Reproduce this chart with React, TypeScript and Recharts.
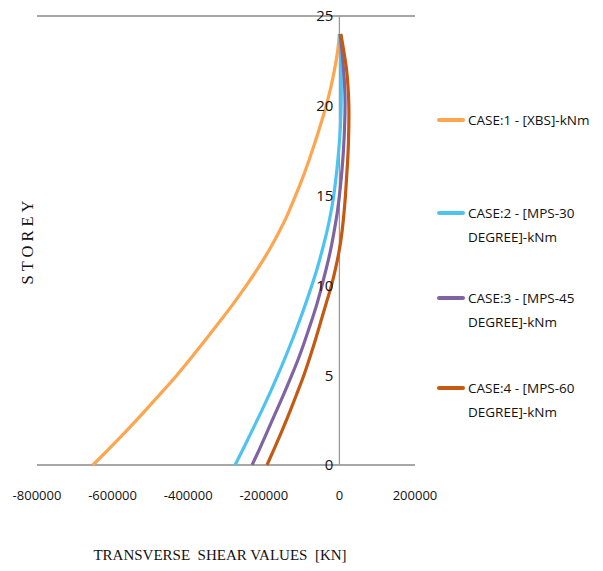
import {
  LineChart,
  Line,
  XAxis,
  YAxis,
  CartesianGrid,
  ReferenceLine,
  ReferenceDot,
  Legend,
} from "recharts";

const storeys = [0, 1, 2, 3, 4, 5, 6, 7, 8, 9, 10, 11, 12, 13, 14, 15, 16, 17, 18, 19, 20, 21, 22, 23, 24];

// transverse shear per storey, kN
const case1 = [
  -652000, -605000, -559000, -515000, -472000, -430000, -391000, -353000, -316000, -280000,
  -246000, -214000, -185000, -159000, -136000, -116000, -97000, -80000, -64000, -49000,
  -35000, -23000, -13000, -5000, 0,
];
const case2 = [
  -276000, -252000, -229000, -206000, -184000, -163000, -143000, -124000, -106000, -89000,
  -73000, -58000, -45000, -33000, -23000, -15000, -9000, -4000, 0, 3000,
  4500, 5000, 4500, 3000, 1000,
];
const case3 = [
  -231000, -209000, -188000, -167000, -146000, -126000, -107000, -90000, -74000, -59000,
  -46000, -34000, -23000, -14000, -6000, 0, 5000, 9000, 12000, 14000,
  15000, 14000, 11000, 7000, 2000,
];
const case4 = [
  -191500, -170500, -150000, -130500, -112000, -94000, -78000, -63000, -49000, -35000,
  -21000, -9500, 0, 7000, 12000, 16000, 19000, 22000, 24000, 25000,
  25000, 23000, 19000, 12000, 4000,
];

const seriesKeys = ["c1", "c2", "c3", "c4"];
const seriesNames = [
  "CASE:1 - [XBS]-kNm",
  "CASE:2 - [MPS-30 DEGREE]-kNm",
  "CASE:3 - [MPS-45 DEGREE]-kNm",
  "CASE:4 - [MPS-60 DEGREE]-kNm",
];
const seriesColors = ["#FDA64F", "#4EC3F0", "#8064A2", "#C45911"];

const xTicks = [-800000, -600000, -400000, -200000, 0, 200000];
const yTicks = [0, 5, 10, 15, 20, 25];

const rows = storeys.map((s, i) => ({
  storey: s,
  c1: case1[i],
  c2: case2[i],
  c3: case3[i],
  c4: case4[i],
}));

const numFont = "'Open Sans', sans-serif";
const titleFont = "'Liberation Serif', 'DejaVu Serif', serif";

// gap below each legend entry
const legendGaps = [69, 37, 42, 0];

const ShearLegend = ({ payload }: any) => (
  <div style={{ fontFamily: numFont, fontSize: 13.5, color: "#111", lineHeight: "24px" }}>
    {(payload || []).map((p: any, i: number) => (
      <div key={i} style={{ display: "flex", alignItems: "flex-start", marginBottom: legendGaps[i] }}>
        <div
          style={{
            width: 28,
            height: 4,
            marginTop: 10,
            marginRight: 3,
            background: p.color,
            borderRadius: 2,
            flexShrink: 0,
          }}
        />
        <div style={{ width: 132 }}>{p.value}</div>
      </div>
    ))}
  </div>
);

export default function App() {
  return (
    <div style={{ position: "absolute", left: 0, top: 0, width: 603, height: 571, background: "#fff" }}>
      <LineChart
        layout="vertical"
        width={603}
        height={571}
        data={rows}
        margin={{ top: 16, right: 188, bottom: 0, left: 0 }}
      >
        <CartesianGrid vertical={false} stroke="#8a8a8a" strokeWidth={1.3} />
        <XAxis
          type="number"
          domain={[-800000, 200000]}
          ticks={xTicks}
          interval={0}
          height={106}
          axisLine={false}
          tickLine={false}
          tickMargin={20}
          tick={{ fill: "#111", fontSize: 13, fontFamily: numFont }}
          label={{
            value: "TRANSVERSE\u00a0 SHEAR VALUES\u00a0 [KN]",
            position: "insideBottom",
            offset: 11,
            dx: -6,
            style: { fill: "#111", fontSize: 15, fontFamily: titleFont },
          }}
        />
        <YAxis
          type="number"
          dataKey="storey"
          domain={[0, 25]}
          ticks={yTicks}
          reversed
          width={37}
          tick={false}
          axisLine={false}
          tickLine={false}
          label={{
            value: "STOREY",
            angle: -90,
            position: "insideLeft",
            dx: 22,
            style: { textAnchor: "middle", fill: "#111", fontSize: 16.5, fontFamily: titleFont, letterSpacing: 4 },
          }}
        />
        <ReferenceLine x={0} stroke="#9a9a9a" strokeWidth={1.3} />
        {yTicks.map((t) => (
          <ReferenceDot
            key={t}
            x={0}
            y={t}
            r={1}
            fill="none"
            stroke="none"
            label={{ value: String(t), position: "left", offset: 5, fill: "#111", fontSize: 15, fontFamily: numFont }}
          />
        ))}
        {seriesKeys.map((k, i) => (
          <Line
            key={k}
            dataKey={k}
            name={seriesNames[i]}
            type="natural"
            stroke={seriesColors[i]}
            strokeWidth={3.2}
            dot={false}
            isAnimationActive={false}
          />
        ))}
        <Legend
          layout="vertical"
          align="center"
          verticalAlign="middle"
          wrapperStyle={{ left: 437, top: 108, width: 166 }}
          content={ShearLegend}
        />
      </LineChart>
    </div>
  );
}
